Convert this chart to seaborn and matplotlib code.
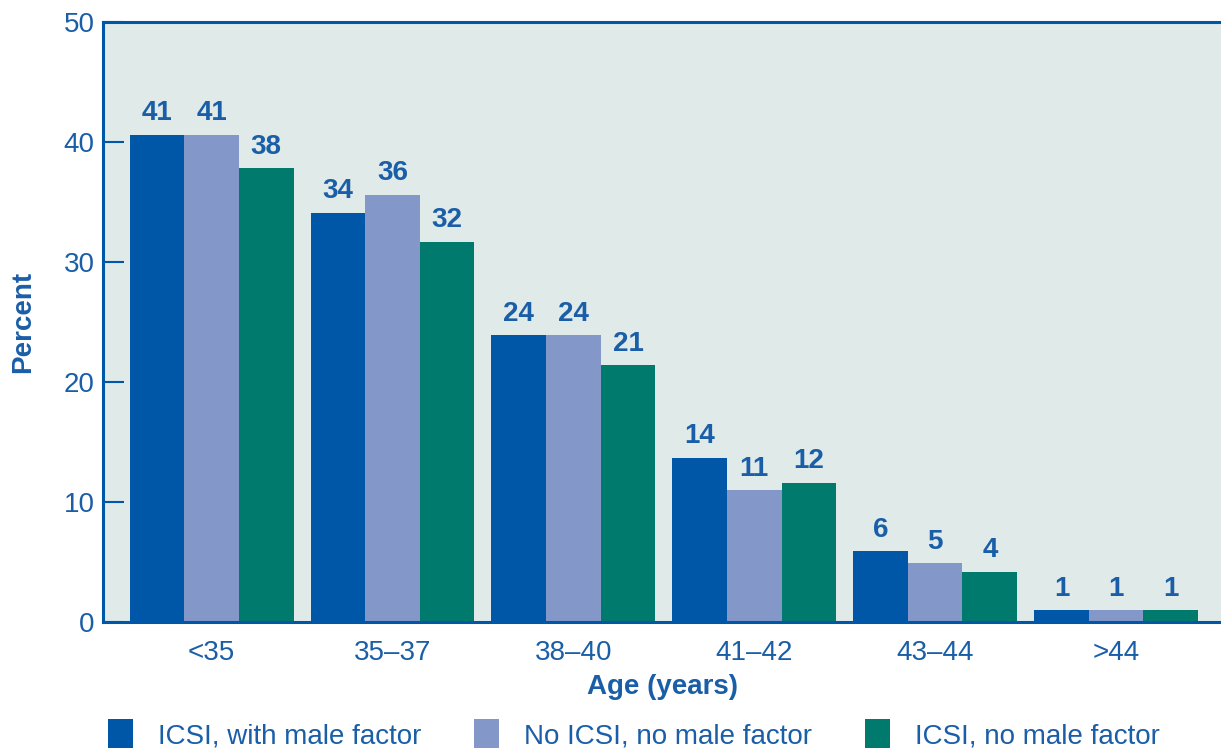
import pandas as pd
import seaborn as sns
import matplotlib.pyplot as plt

# Age groups and percent values
ages = ['<35', '35–37', '38–40', '41–42', '43–44', '>44']
icsi_male = [40.6, 34.1, 23.9, 13.7, 5.9, 1.0]
no_icsi_no_male = [40.6, 35.6, 23.9, 11.0, 4.9, 1.0]
icsi_no_male = [37.8, 31.7, 21.4, 11.6, 4.2, 1.0]
series_names = ['ICSI, with male factor', 'No ICSI, no male factor', 'ICSI, no male factor']
colors = ['#0057a8', '#8397c9', '#007a6c']

txt = '#1a5ea8'
plt.rcParams['font.family'] = ['Liberation Sans', 'DejaVu Sans']

# Long-form table for seaborn
rows = []
for name, vals in zip(series_names, [icsi_male, no_icsi_no_male, icsi_no_male]):
    for a, v in zip(ages, vals):
        rows.append({'Age': a, 'Series': name, 'Percent': v})
df = pd.DataFrame(rows)

fig = plt.figure(figsize=(12.21, 7.48), dpi=100)
ax = fig.add_axes([0.0844, 0.1684, 0.9156, 0.8022])
ax.set_facecolor('#e0eae9')

sns.barplot(data=df, x='Age', y='Percent', hue='Series', order=ages, hue_order=series_names,
            palette=colors, width=0.906, linewidth=0, saturation=1, ax=ax)

for c in ax.containers:
    ax.bar_label(c, fmt='%.0f', padding=6, fontsize=20, fontweight='bold', color=txt)

ax.set_ylim(0, 50)
ax.set_xlim(-0.6, 5.58)
ax.set_yticks([0, 10, 20, 30, 40, 50])

for s in ['left', 'top', 'bottom']:
    ax.spines[s].set_color('#0057a8')
    ax.spines[s].set_linewidth(2.2)
ax.spines['right'].set_visible(False)

ax.tick_params(axis='y', direction='in', length=15, width=1.5, color='#0057a8',
               labelsize=20, labelcolor=txt, pad=6)
ax.tick_params(axis='x', length=0, labelsize=20, labelcolor=txt, pad=13)

ax.set_xlabel('Age (years)', fontsize=20, fontweight='bold', color=txt, labelpad=6)
ax.set_ylabel('Percent', fontsize=20, fontweight='bold', color=txt, labelpad=20)

handles, labels = ax.get_legend_handles_labels()
ax.get_legend().remove()
fig.legend(handles, labels, loc='center left', bbox_to_anchor=(0.079, 0.018), ncol=3,
           frameon=False, fontsize=20, labelcolor=txt, handlelength=0.9, handleheight=1.3,
           handletextpad=0.9, columnspacing=1.9, borderaxespad=0)

fig.savefig('out.png', dpi=100)
